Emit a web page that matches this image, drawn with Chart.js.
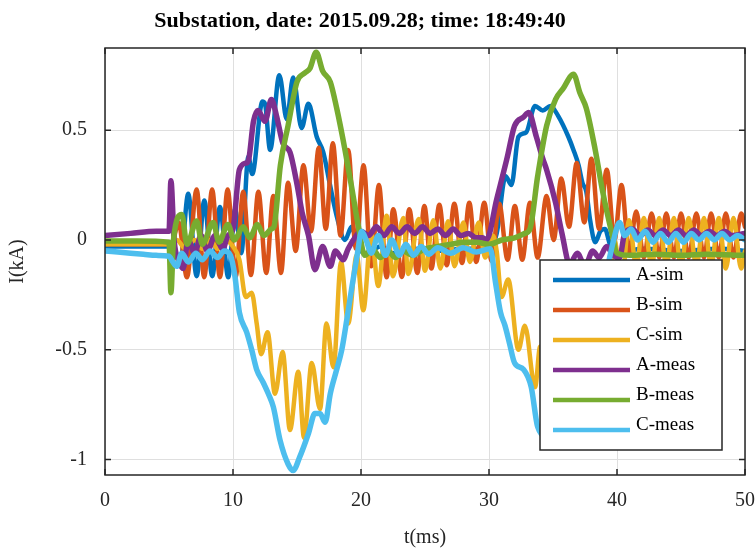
<!DOCTYPE html>
<html>
<head>
<meta charset="utf-8">
<script src="https://cdn.jsdelivr.net/npm/chart.js@4.4.1/dist/chart.umd.min.js"></script>
<style>
  html, body { margin: 0; padding: 0; background: #fff; }
  #wrap { width: 755px; height: 548px; }
</style>
</head>
<body>
<div id="wrap"><canvas id="chart" width="755" height="548"></canvas></div>
<script>
// ========== DATA (t in ms, I in kA) ==========
const titleText = 'Substation, date: 2015.09.28; time: 18:49:40';
const xTicks = [0, 10, 20, 30, 40, 50];
const yTicks = [-1, -0.5, 0, 0.5];
const seriesNames = ['A-sim', 'B-sim', 'C-sim', 'A-meas', 'B-meas', 'C-meas'];
const seriesColors = ['#0072BD', '#D95319', '#EDB120', '#7E2F8E', '#77AC30', '#4DBEEE'];

const aSim = [[0,-0.03],[2.5,-0.03],[5.0,-0.03],[5.4,-0.05],[5.9,-0.1],[6.5,0.21],[7.16,-0.165],[7.76,0.18],
  [8.38,-0.165],[8.98,0.15],[9.63,-0.17],[10.16,0.14],[10.65,-0.06],[11.2,0.38],[11.5,0.3],[12.3,0.63],
  [12.5,0.62],[12.9,0.41],[13.62,0.75],[14.2,0.55],[14.7,0.74],[15.36,0.51],[15.89,0.62],[16.54,0.47],
  [17.05,0.40],[17.58,0.25],[18.1,0.11],[18.75,0.0],[19.27,0.06],[19.8,-0.04],[20.5,-0.06],[21.5,-0.03],
  [22.5,-0.06],[24,-0.04],[26,-0.05],[28,-0.04],[30,-0.04],[30.6,0.03],[31.3,0.29],[31.75,0.25],
  [32.3,0.47],[32.9,0.49],[33.6,0.61],[34.2,0.59],[34.8,0.61],[35.4,0.565],[36.2,0.47],[36.6,0.41],
  [37.0,0.34],[37.3,0.26],[37.6,0.22],[37.9,0.09],[38.3,-0.01],[38.7,0.04],[39.06,0.05],[39.45,-0.02],
  [40,-0.06],[42,-0.04],[45,-0.05],[48,-0.04],[50,-0.05]];

const bSim = [[0,-0.02],[2.5,-0.02],[5.2,-0.02],[5.75,0.08],[6.4,-0.17],[7.16,0.23],[7.75,-0.17],[8.37,0.23],
  [8.98,-0.17],[9.58,0.23],[10.2,-0.17],[10.8,0.22],[11.4,-0.16],[11.98,0.22],[12.6,-0.15],[13.15,0.2],
  [13.75,-0.15],[14.3,0.26],[14.9,-0.05],[15.5,0.34],[16.1,0.04],[16.7,0.42],[17.25,0.05],[17.8,0.44],
  [18.4,0.02],[19.0,0.41],[19.6,-0.04],[20.2,0.34],[20.8,-0.12],[21.4,0.25],[22.0,-0.17],[22.52,0.14],
  [23.2,-0.168],[23.77,0.14],[24.4,-0.15],[24.95,0.155],[25.5,-0.13],[26.12,0.16],[26.7,-0.115],[27.29,0.165],
  [27.9,-0.105],[28.46,0.17],[29.0,-0.1],[29.63,0.17],[30.2,-0.095],[30.8,0.165],[31.45,-0.09],[32.02,0.155],
  [32.6,-0.09],[33.2,0.17],[33.8,-0.08],[34.5,0.2],[35.05,0.0],[35.65,0.28],[36.25,0.06],[36.85,0.35],
  [37.45,0.08],[38.0,0.37],[38.6,0.05],[39.2,0.32],[39.8,0.0],[40.35,0.25],[40.95,-0.06],[41.5,0.13],
  [42.1,-0.08],[42.7,0.12],[43.3,-0.08],[43.85,0.12],[44.45,-0.08],[45.0,0.12],[45.6,-0.08],[46.2,0.12],
  [46.8,-0.08],[47.35,0.12],[47.95,-0.08],[48.5,0.12],[49.1,-0.08],[49.7,0.12],[50,0.06]];

const cSim = [[0,-0.02],[5.0,-0.02],[5.6,0.0],[6.3,-0.04],[7.0,0.0],[7.6,-0.04],[8.2,0.0],[8.8,-0.04],
  [9.4,0.0],[10.0,-0.03],[10.5,-0.09],[11.0,-0.26],[11.46,-0.24],[11.85,-0.38],[12.2,-0.52],[12.7,-0.42],
  [13.28,-0.70],[13.88,-0.51],[14.45,-0.865],[15.1,-0.60],[15.55,-0.90],[16.15,-0.56],[16.8,-0.77],[17.3,-0.38],
  [17.85,-0.58],[18.44,-0.10],[19.0,-0.38],[19.66,-0.07],[20.18,-0.32],[20.8,0.03],[21.35,-0.21],[22.0,0.11],
  [22.5,-0.165],[23.3,0.1],[23.7,-0.155],[24.5,0.095],[25.0,-0.14],[25.65,0.09],[26.2,-0.13],[26.8,0.085],
  [27.3,-0.12],[28.0,0.08],[28.5,-0.1],[29.2,0.08],[29.7,-0.08],[30.3,0.02],[30.6,-0.05],[30.98,-0.26],
  [31.5,-0.18],[32.3,-0.5],[32.8,-0.39],[33.6,-0.67],[34.0,-0.485],[34.6,-0.8],[35.1,-0.6],[35.7,-0.88],
  [36.3,-0.55],[36.9,-0.8],[37.5,-0.4],[38.1,-0.6],[38.7,-0.15],[39.2,-0.35],[39.8,0.0],[40.35,-0.2],
  [40.95,0.09],[41.5,-0.12],[42.1,0.1],[42.7,-0.12],[43.3,0.1],[43.85,-0.12],[44.45,0.1],[45.0,-0.12],
  [45.6,0.1],[46.2,-0.12],[46.8,0.1],[47.35,-0.12],[47.95,0.1],[48.5,-0.13],[49.1,0.1],[49.7,-0.13],[50,-0.05]];

const aMeas = [[0,0.02],[2,0.03],[4,0.04],[5.0,0.04],[5.15,0.27],[5.4,0.0],[5.8,-0.1],[6.1,-0.13],
  [6.5,0.0],[7.0,-0.06],[7.5,0.02],[8.0,-0.05],[8.6,0.02],[9.2,-0.04],[9.6,0.02],[10.0,0.05],
  [10.5,0.32],[11.0,0.35],[11.2,0.36],[11.6,0.54],[11.95,0.59],[12.5,0.54],[13.0,0.64],[13.4,0.565],
  [13.9,0.44],[14.45,0.40],[14.98,0.26],[15.4,0.125],[15.9,0.02],[16.4,-0.135],[17.0,-0.03],[17.6,-0.12],
  [18.0,-0.05],[18.6,-0.09],[19.0,-0.04],[19.4,0.0],[20,0.04],[20.6,0.02],[21.2,0.06],[21.8,0.02],
  [22.4,0.06],[23,0.03],[23.6,0.06],[24.2,0.03],[24.8,0.06],[25.4,0.03],[26,0.05],[26.6,0.02],
  [27.2,0.05],[27.8,0.02],[28.4,0.03],[29.0,0.01],[29.5,0.01],[29.8,0.0],[30.6,0.185],[31.4,0.37],
  [32.0,0.52],[32.7,0.56],[33.1,0.58],[33.7,0.47],[34.2,0.37],[34.5,0.32],[35.2,0.17],[35.7,0.03],
  [36.3,-0.11],[36.9,-0.06],[37.5,-0.12],[38.1,-0.05],[38.6,-0.08],[39.2,-0.03],[39.7,-0.07],[40.2,-0.08],
  [40.6,0.03],[41.2,0.05],[41.8,0.02],[42.4,0.045],[43,0.02],[43.6,0.045],[44.2,0.02],[44.8,0.045],
  [45.4,0.02],[46,0.045],[46.6,0.02],[47.2,0.04],[47.8,0.02],[48.4,0.04],[49,0.02],[50,0.03]];

const bMeas = [[0,-0.005],[2.5,-0.005],[5.0,-0.01],[5.15,-0.24],[5.35,0.0],[6.0,0.116],[6.4,-0.02],[7.16,0.086],
  [7.6,-0.02],[8.46,0.08],[8.9,-0.01],[9.6,0.07],[10.1,0.0],[10.8,0.06],[11.3,0.01],[11.9,0.07],
  [12.4,0.02],[13.0,0.05],[13.2,0.06],[13.7,0.34],[14.3,0.52],[15.0,0.72],[15.6,0.76],[16.0,0.78],
  [16.5,0.855],[17.0,0.77],[17.6,0.72],[18.1,0.6],[18.75,0.41],[19.3,0.23],[19.8,0.06],[20.3,-0.07],
  [20.9,-0.04],[21.5,-0.08],[22.1,-0.05],[22.7,-0.08],[23.3,-0.05],[24,-0.07],[25,-0.04],[26,-0.03],
  [27,-0.02],[28,-0.01],[29,-0.01],[30,-0.02],[31,0.0],[32,0.01],[32.8,0.03],[33.2,0.05],
  [33.8,0.29],[34.5,0.52],[35.2,0.64],[35.8,0.69],[36.6,0.755],[37.1,0.67],[37.6,0.6],[38.3,0.41],
  [38.9,0.215],[39.6,0.03],[40.0,-0.06],[41,-0.07],[43,-0.065],[45,-0.07],[47,-0.065],[50,-0.07]];

const cMeas = [[0,-0.05],[1,-0.055],[2,-0.06],[3,-0.065],[4,-0.07],[5.0,-0.074],[5.3,-0.1],[5.6,-0.12],
  [6.0,-0.06],[6.5,-0.1],[7.1,-0.06],[7.6,-0.09],[8.2,-0.05],[8.8,-0.08],[9.3,-0.05],[9.8,-0.07],
  [10.15,-0.165],[10.5,-0.33],[11.07,-0.42],[11.46,-0.5],[11.85,-0.59],[12.37,-0.65],[12.76,-0.7],[13.15,-0.76],
  [13.67,-0.91],[14.3,-1.02],[14.7,-1.05],[15.2,-0.99],[15.9,-0.88],[16.4,-0.79],[16.8,-0.79],[17.2,-0.83],
  [17.6,-0.70],[18.1,-0.59],[18.5,-0.5],[18.9,-0.36],[19.3,-0.21],[19.7,-0.07],[20.05,0.04],[20.4,0.0],
  [20.8,-0.06],[21.35,0.02],[21.9,-0.07],[22.4,0.0],[23.0,-0.07],[23.5,-0.02],[24.1,-0.07],[24.7,-0.03],
  [25.3,-0.065],[26,-0.035],[27,-0.06],[28,-0.035],[29,-0.055],[30.1,-0.04],[30.5,-0.19],[30.9,-0.33],
  [31.25,-0.39],[31.6,-0.47],[32.0,-0.56],[32.7,-0.59],[33.3,-0.67],[33.8,-0.85],[34.6,-0.9],[35.3,-0.93],
  [36,-0.85],[36.8,-0.75],[37.5,-0.6],[38.3,-0.4],[39,-0.2],[39.7,-0.01],[40.2,0.08],[40.6,0.02],
  [41.1,0.05],[41.6,0.0],[42.2,0.04],[42.8,-0.01],[43.4,0.03],[44,-0.01],[44.6,0.03],[45.2,-0.01],
  [45.8,0.03],[46.4,0.0],[47,0.03],[47.6,0.0],[48.2,0.03],[48.8,0.0],[49.4,0.02],[50,0.0]];

const seriesData = [aSim, bSim, cSim, aMeas, bMeas, cMeas];

// ========== STYLE ==========
const FONT = "'Liberation Serif', 'Times New Roman', serif";
const AXIS_COLOR = '#262626';
const GRID_COLOR = '#dfdfdf';

// MATLAB-like frame: full box, inward ticks, legend and title
const matlabFrame = {
  id: 'matlabFrame',
  afterDraw(chart) {
    const { ctx, chartArea: a, scales: { x, y } } = chart;
    ctx.save();

    // box + inward tick marks
    ctx.strokeStyle = AXIS_COLOR;
    ctx.lineWidth = 1.5;
    ctx.strokeRect(a.left, a.top, a.right - a.left, a.bottom - a.top);
    const tl = 6;
    ctx.beginPath();
    xTicks.forEach(v => {
      const px = x.getPixelForValue(v);
      ctx.moveTo(px, a.bottom); ctx.lineTo(px, a.bottom - tl);
      ctx.moveTo(px, a.top); ctx.lineTo(px, a.top + tl);
    });
    yTicks.forEach(v => {
      const py = y.getPixelForValue(v);
      ctx.moveTo(a.left, py); ctx.lineTo(a.left + tl, py);
      ctx.moveTo(a.right, py); ctx.lineTo(a.right - tl, py);
    });
    ctx.stroke();

    // legend box (inside the axes, lower right)
    const lx = a.right - 205, ly = a.top + 212, lw = 182, lh = 190;
    ctx.fillStyle = '#fff';
    ctx.fillRect(lx, ly, lw, lh);
    ctx.strokeStyle = AXIS_COLOR;
    ctx.lineWidth = 1.5;
    ctx.strokeRect(lx, ly, lw, lh);
    ctx.font = '19px ' + FONT;
    ctx.textBaseline = 'middle';
    ctx.textAlign = 'left';
    chart.data.datasets.forEach((ds, i) => {
      const yy = ly + 20 + i * 30;
      ctx.strokeStyle = ds.borderColor;
      ctx.lineWidth = 4.5;
      ctx.beginPath();
      ctx.moveTo(lx + 13, yy);
      ctx.lineTo(lx + 90, yy);
      ctx.stroke();
      ctx.fillStyle = '#000';
      ctx.fillText(ds.label, lx + 96, yy - 5);
    });

    // title
    ctx.font = 'bold 22px ' + FONT;
    ctx.fillStyle = '#000';
    ctx.textAlign = 'center';
    ctx.textBaseline = 'middle';
    ctx.fillText(titleText, 360, 21);

    ctx.restore();
  }
};

const datasets = seriesNames.map((name, i) => ({
  label: name,
  data: seriesData[i].map(p => ({ x: p[0], y: p[1] })),
  borderColor: seriesColors[i],
  backgroundColor: seriesColors[i],
  borderWidth: i < 3 ? 4.5 : 5.5,
  pointRadius: 0,
  cubicInterpolationMode: 'monotone',
  borderJoinStyle: 'round',
  borderCapStyle: 'round',
  fill: false,
  order: 6 - i  // later series drawn on top, like MATLAB
}));

new Chart(document.getElementById('chart'), {
  type: 'line',
  data: { datasets },
  options: {
    responsive: false,
    animation: false,
    layout: { padding: { top: 48, right: 0, left: 0, bottom: 0 } },
    plugins: {
      legend: { display: false },
      tooltip: { enabled: false },
      title: { display: false }
    },
    scales: {
      x: {
        type: 'linear',
        min: 0,
        max: 50,
        afterBuildTicks: s => { s.ticks = xTicks.map(v => ({ value: v })); },
        afterFit: s => { s.height = 73; },
        ticks: {
          font: { family: FONT, size: 20 },
          color: AXIS_COLOR,
          padding: 0,
          maxRotation: 0,
          callback: v => String(v)
        },
        // invisible tick marks only push the labels down
        grid: { color: GRID_COLOR, drawTicks: true, tickLength: 14, tickColor: 'rgba(0,0,0,0)', lineWidth: 1 },
        border: { display: false },
        title: {
          display: true,
          text: 't(ms)',
          font: { family: FONT, size: 20 },
          color: AXIS_COLOR,
          padding: { top: 0, bottom: -2 }
        }
      },
      y: {
        type: 'linear',
        min: -1.07,
        max: 0.874,
        afterBuildTicks: s => { s.ticks = yTicks.map(v => ({ value: v })); },
        afterFit: s => { s.width = 105; },
        ticks: {
          font: { family: FONT, size: 20 },
          color: AXIS_COLOR,
          padding: 18,
          callback: v => String(v)
        },
        grid: { color: GRID_COLOR, drawTicks: false, lineWidth: 1 },
        border: { display: false },
        title: {
          display: true,
          text: 'I(kA)',
          font: { family: FONT, size: 20 },
          color: AXIS_COLOR,
          padding: { top: 6, bottom: 0 }
        }
      }
    }
  },
  plugins: [matlabFrame]
});
</script>
</body>
</html>
